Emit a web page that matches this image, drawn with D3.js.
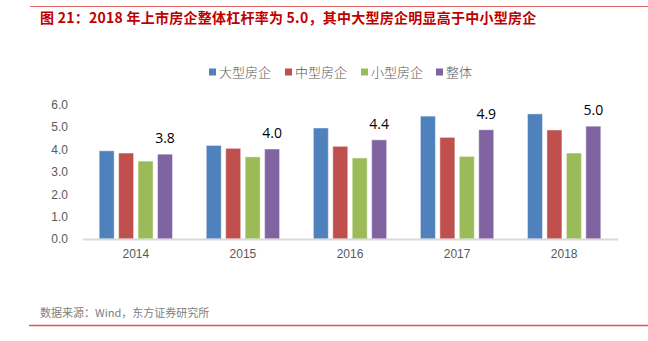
<!DOCTYPE html>
<html><head><meta charset="utf-8">
<script src="https://cdn.jsdelivr.net/npm/d3@7"></script>
<style>body{margin:0;background:#fff}svg{display:block}</style>
</head><body>
<svg id="c" width="648" height="341"></svg>
<script>
const years = ["2014","2015","2016","2017","2018"];
const seriesNames = ["大型房企","中型房企","小型房企","整体"];
const large = [3.94, 4.18, 4.96, 5.49, 5.59];
const medium = [3.84, 4.05, 4.14, 4.54, 4.87];
const small = [3.48, 3.67, 3.62, 3.69, 3.84];
const overall = [3.79, 4.02, 4.43, 4.88, 5.04];
const yTicks = [0,1,2,3,4,5,6];
const colors = ["#4F81BD","#C0504D","#9BBB59","#8064A2"];
const titleText = "图 21：2018 年上市房企整体杠杆率为 5.0，其中大型房企明显高于中小型房企";
const sourceText = "数据来源：Wind，东方证券研究所";

const svg = d3.select("#c");
const values = [large, medium, small, overall];

// header/footer lines
svg.append("line").attr("x1",30).attr("x2",648).attr("y1",6.5).attr("y2",6.5)
  .attr("stroke","#e06666").attr("stroke-width",1);
svg.append("text").attr("x",40).attr("y",23).text(titleText)
  .attr("font-family","'Noto Sans CJK SC', sans-serif").attr("font-weight","bold")
  .attr("font-size",14).attr("letter-spacing",0.25).attr("fill","#c00000");
svg.append("line").attr("x1",29).attr("x2",648).attr("y1",325.5).attr("y2",325.5)
  .attr("stroke","#e05555").attr("stroke-width",1.5);
svg.append("text").attr("x",40).attr("y",317).text(sourceText)
  .attr("font-family","'Noto Sans CJK SC', sans-serif")
  .attr("font-size",11).attr("fill","#808080");

const x0 = d3.scaleBand().domain(years).range([82.3,617.7]).paddingInner(0.232).paddingOuter(0.116);
const x1 = d3.scaleBand().domain(seriesNames).range([0,x0.bandwidth()]).padding(0.229);
const y = d3.scaleLinear().domain([0,6]).range([239,104.7]);

// y axis labels
const yAxis = d3.axisLeft(y).tickValues(yTicks).tickFormat(d3.format(".1f")).tickSize(0).tickPadding(0);
const ga = svg.append("g").attr("transform","translate(68,0)").call(yAxis);
ga.select(".domain").remove();
ga.selectAll("text").attr("font-family","'Liberation Sans', Arial, sans-serif").attr("font-size",12).attr("fill","#595959");

// bars
years.forEach((yr,i)=>{
  const g = svg.append("g").attr("transform",`translate(${x0(yr)},0)`);
  seriesNames.forEach((s,j)=>{
    const v = values[j][i];
    g.append("rect").attr("x",x1(s)).attr("width",x1.bandwidth())
      .attr("y",y(v)).attr("height",y(0)-y(v))
      .attr("fill",colors[j]).attr("stroke","rgba(255,255,255,0.45)").attr("stroke-width",1);
  });
  svg.append("text").attr("x",x0(yr)+x1("整体")+x1.bandwidth()/2).attr("y",y(overall[i])-11)
    .attr("text-anchor","middle").text(d3.format(".1f")(overall[i]))
    .attr("font-family","'Open Sans', 'Noto Sans', sans-serif").attr("font-size",14).attr("fill","#000");
});

// x axis
const xAxis = d3.axisBottom(x0).tickSize(0).tickPadding(10);
const gx = svg.append("g").attr("transform",`translate(0,${y(0)})`).call(xAxis);
gx.select(".domain").attr("stroke","#d9d9d9").attr("stroke-width",2);
gx.selectAll("text").attr("font-family","'Liberation Sans', Arial, sans-serif").attr("font-size",12).attr("fill","#595959");

// legend
const legendX = [209, 285, 361, 436];
const lg = svg.append("g");
seriesNames.forEach((s,j)=>{
  lg.append("rect").attr("x",legendX[j]).attr("y",68.5).attr("width",7).attr("height",7).attr("fill",colors[j]);
  lg.append("text").attr("x",legendX[j]+10).attr("y",77).text(s)
    .attr("font-family","'Noto Sans CJK SC', sans-serif").attr("font-weight",300)
    .attr("font-size",13).attr("fill","#595959");
});
</script>
</body></html>
